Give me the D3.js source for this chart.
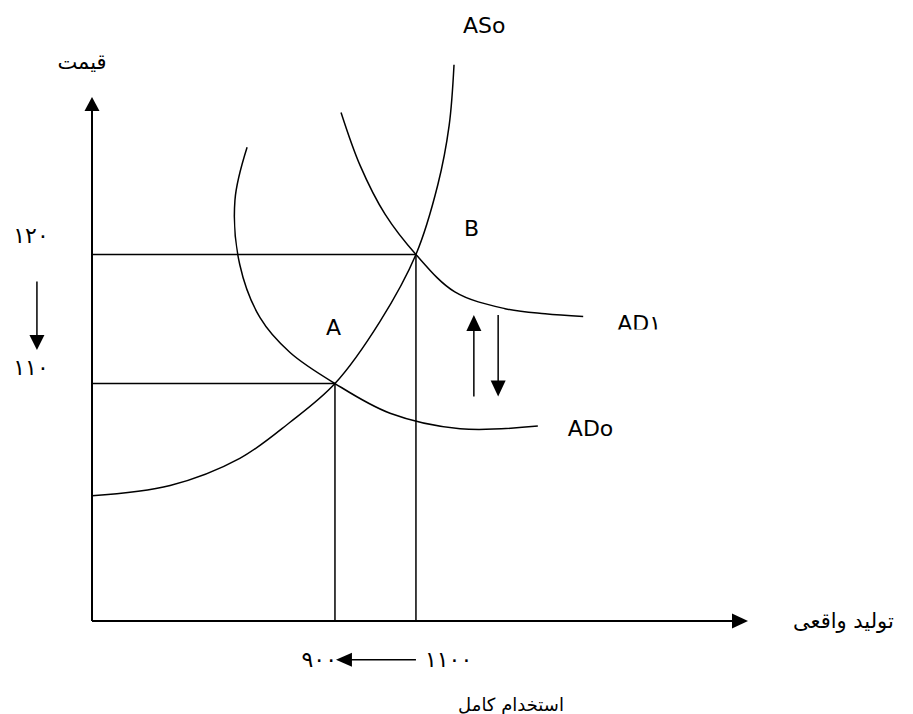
<!DOCTYPE html>
<html lang="fa">
<head>
  <meta charset="utf-8">
  <title>AS / AD</title>
  <script type="text/javascript" src="https://cdn.jsdelivr.net/npm/d3@7"></script>
  <style>
    body { margin: 0; background: #fff; }
    text { font-family: "DejaVu Sans", sans-serif; fill: #000; }
  </style>
</head>
<body>
  <script type="text/javascript">

  // valeurs (production réelle, prix)
  var outputTicks = [900, 1100];
  var outputTickLabels = ["٩٠٠", "١١٠٠"];
  var priceTicks = [110, 120];
  var priceTickLabels = ["١١٠", "١٢٠"];

  var equilibria = [
    {id: "A", q: 900, p: 110},
    {id: "B", q: 1100, p: 120}
  ];

  // courbes (q, p)
  var asCurve = [[300, 101.3], [493, 102.1], [665, 104.2], [789, 107.0], [900, 110],
    [1011, 114.8], [1100, 120], [1154, 125.4], [1182, 130.0], [1194, 134.7]];
  var ad0Curve = [[683, 128.3], [653, 124.2], [665, 119.2], [715, 115.1], [789, 112.4],
    [900, 110], [1036, 107.7], [1209, 106.5], [1401, 106.7]];
  var ad1Curve = [[915, 131.0], [962, 126.9], [1024, 123.1], [1100, 120], [1196, 117.1],
    [1320, 115.8], [1419, 115.4], [1513, 115.2]];

  var curveNames = ["ASo", "ADo", "AD١"];

  // flèches d'annotation
  var shiftArrows = [
    {q: 1243, from: 109.0, to: 115.3},
    {q: 1303, from: 115.3, to: 109.0}
  ];
  var priceArrow = {q: 164, from: 117.9, to: 112.6};
  var outputArrow = {p: 88.6, from: 1100, to: 900};

  var width = 913;
  var height = 714;

  var x = d3.scaleLinear().domain([300, 1920]).range([92, 748]);
  var y = d3.scaleLinear().domain([91.6, 132.2]).range([621, 97]);

  var svg = d3.select("body")
    .append("svg")
    .attr("width", width)
    .attr("height", height)
    .attr("viewBox", [0, 0, width, height]);

  function arrow(g, x1, y1, x2, y2, len, half, sw) {
    var dx = x2 - x1, dy = y2 - y1, L = Math.hypot(dx, dy);
    var ux = dx / L, uy = dy / L;
    var bx = x2 - ux * len, by = y2 - uy * len;
    g.append("line")
      .attr("x1", x1).attr("y1", y1)
      .attr("x2", bx + ux).attr("y2", by + uy)
      .attr("stroke", "#000").attr("stroke-width", sw);
    g.append("path")
      .attr("d", "M" + x2 + "," + y2 +
        "L" + (bx - uy * half) + "," + (by + ux * half) +
        "L" + (bx + uy * half) + "," + (by - ux * half) + "Z")
      .attr("fill", "#000");
  }

  // axes
  var axes = svg.append("g");
  arrow(axes, x(300), y(91.6), x(300), y(132.2), 14, 7.5, 2);
  arrow(axes, x(300), y(91.6), x(1920), y(91.6), 16, 7.5, 2);

  // lignes de repère
  var guides = svg.append("g").attr("stroke", "#000").attr("stroke-width", 1.5);
  guides.selectAll(".h")
    .data(equilibria)
    .enter().append("line")
    .attr("x1", x(300)).attr("x2", d => x(d.q))
    .attr("y1", d => y(d.p)).attr("y2", d => y(d.p));
  guides.selectAll(".v")
    .data(equilibria)
    .enter().append("line")
    .attr("x1", d => x(d.q)).attr("x2", d => x(d.q))
    .attr("y1", d => y(d.p)).attr("y2", y(91.6));

  // courbes
  var line = d3.line()
    .x(d => x(d[0]))
    .y(d => y(d[1]))
    .curve(d3.curveCatmullRom.alpha(0.5));

  svg.append("g")
    .attr("fill", "none")
    .attr("stroke", "#000")
    .attr("stroke-width", 1.5)
    .selectAll("path")
    .data([asCurve, ad0Curve, ad1Curve])
    .enter().append("path")
    .attr("d", line);

  // noms des courbes
  var asTop = asCurve[asCurve.length - 1];
  var ad0End = ad0Curve[ad0Curve.length - 1];
  var ad1End = ad1Curve[ad1Curve.length - 1];

  svg.append("text")
    .attr("x", x(asTop[0]) + 9).attr("y", y(asTop[1]) - 32)
    .attr("font-size", 22).text(curveNames[0]);
  svg.append("text")
    .attr("x", x(ad0End[0]) + 30).attr("y", y(ad0End[1]) + 10)
    .attr("font-size", 22).text(curveNames[1]);

  // AD1 : la zone de texte coupe le bas des lettres
  svg.append("clipPath").attr("id", "clipAD1")
    .append("rect")
    .attr("x", x(ad1End[0])).attr("y", y(ad1End[1]) - 30)
    .attr("width", 120).attr("height", 43);
  svg.append("text")
    .attr("clip-path", "url(#clipAD1)")
    .attr("x", x(ad1End[0]) + 34).attr("y", y(ad1End[1]) + 15)
    .attr("font-size", 22).text(curveNames[2]);

  // points d'équilibre
  svg.selectAll(".eq")
    .data(equilibria)
    .enter().append("text")
    .attr("x", d => d.id === "A" ? x(d.q) - 9 : x(d.q) + 48)
    .attr("y", d => d.id === "A" ? y(d.p) - 49 : y(d.p) - 18)
    .attr("font-size", 22)
    .text(d => d.id);

  // graduations
  svg.selectAll(".pt")
    .data(priceTicks)
    .enter().append("text")
    .attr("x", 31)
    .attr("y", (d, i) => y(d) - (i === 0 ? 16 : 19))
    .attr("dy", "0.35em")
    .attr("text-anchor", "middle")
    .attr("font-size", 22)
    .attr("letter-spacing", 3)
    .text((d, i) => priceTickLabels[i]);

  svg.selectAll(".qt")
    .data(outputTicks)
    .enter().append("text")
    .attr("x", (d, i) => i === 0 ? x(d) + 2 : x(d) + 9)
    .attr("y", y(outputArrow.p))
    .attr("dy", "0.35em")
    .attr("text-anchor", (d, i) => i === 0 ? "end" : "start")
    .attr("font-size", 22)
    .attr("letter-spacing", 3)
    .text((d, i) => outputTickLabels[i]);

  // flèches
  var arrows = svg.append("g");
  arrow(arrows, x(priceArrow.q), y(priceArrow.from), x(priceArrow.q), y(priceArrow.to), 15, 7.5, 1.5);
  shiftArrows.forEach(function(a) {
    arrow(arrows, x(a.q), y(a.from), x(a.q), y(a.to), 16, 7.5, 1.5);
  });
  arrow(arrows, x(outputArrow.from), y(outputArrow.p), x(outputArrow.to) + 1, y(outputArrow.p), 16, 7, 1.5);

  // titres des axes
  svg.append("text")
    .attr("x", x(300) - 10).attr("y", 62)
    .attr("dy", "0.35em")
    .attr("text-anchor", "middle")
    .attr("font-size", 21)
    .text("قيمت");

  svg.append("text")
    .attr("x", x(1920) + 45).attr("y", y(91.6))
    .attr("dy", "0.35em")
    .attr("text-anchor", "start")
    .attr("font-size", 21)
    .text("تولید واقعی");

  svg.append("text")
    .attr("x", 511).attr("y", 705)
    .attr("dy", "0.35em")
    .attr("text-anchor", "middle")
    .attr("font-size", 18)
    .text("استخدام كامل");

  </script>
</body>
</html>
